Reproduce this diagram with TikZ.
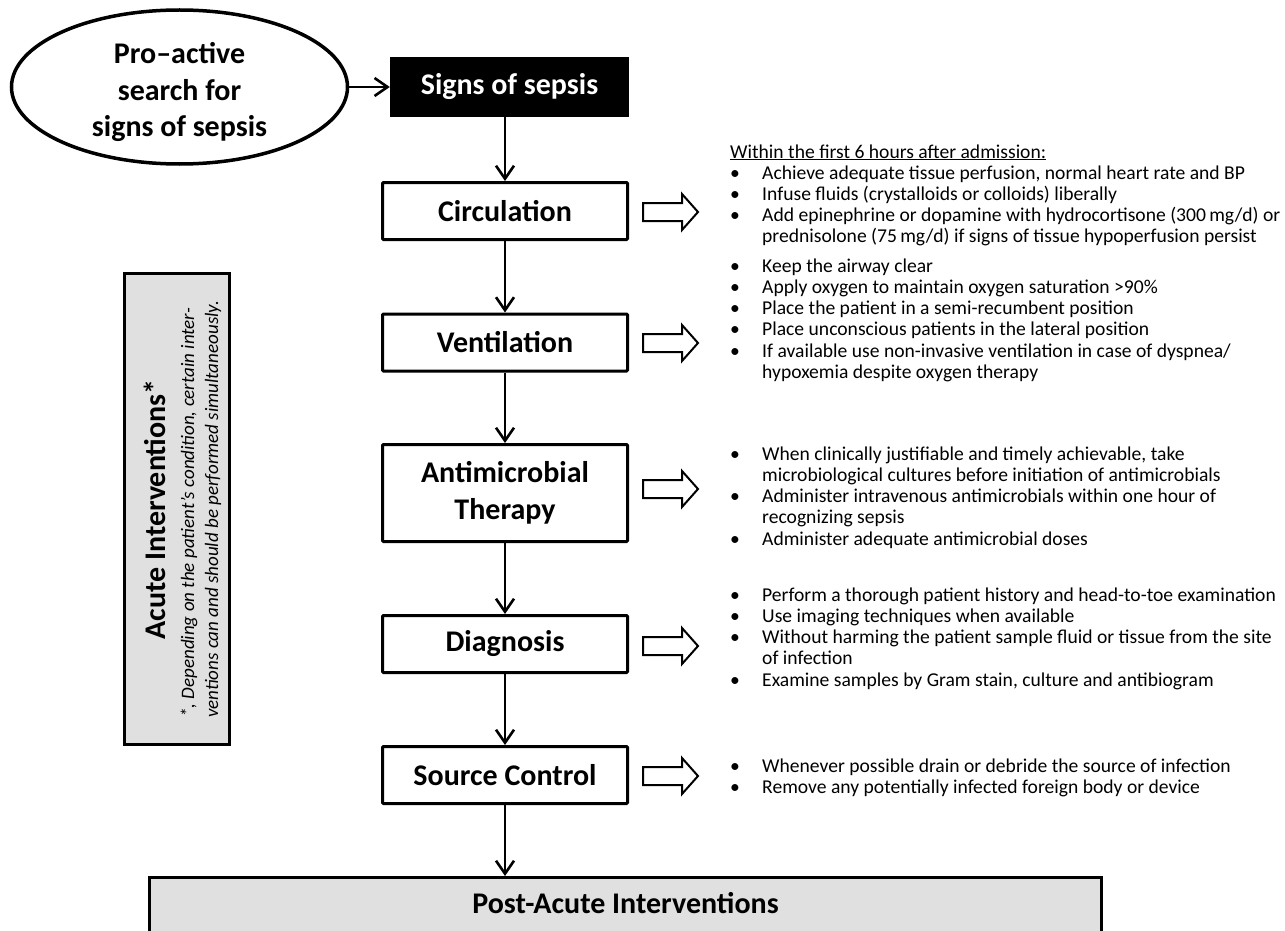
\documentclass[tikz,border=0pt]{standalone}
\usepackage{fontspec}
\setmainfont{Carlito}
\usetikzlibrary{arrows.meta,shapes.geometric,calc}
\definecolor{boxgray}{RGB}{224,224,224}
\newcommand{\hollowarrow}[1]{\draw[harrow] (643,#1-9) -- (682,#1-9) -- (682,#1-18) -- (698,#1) -- (682,#1+18) -- (682,#1+9) -- (643,#1+9) -- cycle;}
\begin{document}
\begin{tikzpicture}[x=1pt,y=-1pt,
  lbl/.style={font=\fontsize{30}{36.6}\selectfont\bfseries},
  stepbox/.style={draw, line width=3pt, rounded corners=1pt, minimum width=245pt, minimum height=57pt, inner sep=0pt, lbl, align=center, fill=white},
  conn/.style={line width=2.6pt, -{Straight Barb[length=13pt,width=18pt]}},
  harrow/.style={draw, line width=2pt, fill=white, line join=miter},
  info/.style={anchor=base west, inner sep=0pt, font=\fontsize{19.6}{21.25}\selectfont},
  graybox/.style={fill=boxgray, draw, line width=3pt, inner sep=0pt}
]
\useasboundingbox (0,0) rectangle (1285,931);
\clip (0,0) rectangle (1285,931);

% main flow
\node[ellipse, draw, line width=3.5pt, minimum width=336pt, minimum height=154pt, inner sep=0pt] (pro) at (179.5,87) {};
\node[lbl, align=center, inner sep=0pt] (protext) at (179.5,92) {Pro–active\\search for\\signs of sepsis};
\node[fill=black, text=white, lbl, minimum width=239pt, minimum height=60pt, inner sep=0pt] (signs) at (509.5,87) {Signs of sepsis};
\node[stepbox] (circ) at (505,211) {Circulation};
\node[stepbox] (vent) at (505,342.5) {Ventilation};
\node[stepbox, minimum height=97pt] (anti) at (505,493) {Antimicrobial\\Therapy};
\node[stepbox] (diag) at (505,644) {Diagnosis};
\node[stepbox] (src) at (505,775) {Source Control};
\node[graybox, minimum width=952pt, minimum height=70pt] (post) at (625.5,912.5) {};
\node[lbl, inner sep=0pt] (posttext) at (625.5,903) {Post-Acute Interventions};

% side box
\node[graybox, minimum width=105pt, minimum height=471pt] (acute) at (177,509) {};
\node[lbl, rotate=90, inner sep=0pt] (acutetitle) at (155,509.5) {Acute Interventions*};
\node[rotate=90, anchor=base west, inner sep=0pt, font=\fontsize{19}{24}\selectfont\itshape] (acutenote) at (194,718)
  {\begin{tabular}[t]{@{}l@{}}*, Depending on the patient’s condition, certain inter-\\ventions can and should be performed simultaneously.\end{tabular}};

% connectors
\draw[conn] (pro.east) -- (signs.west);
\draw[conn] (signs.south -| circ.north) -- (circ.north);
\draw[conn] (circ) -- (vent);
\draw[conn] (vent) -- (anti);
\draw[conn] (anti) -- (diag);
\draw[conn] (diag) -- (src);
\draw[conn] (src.south) -- (src.south |- post.north);

% hollow arrows
\hollowarrow{212}
\hollowarrow{343}
\hollowarrow{489}
\hollowarrow{646}
\hollowarrow{776}

% info texts
\node[info] (t1) at (730,158) {\begin{tabular}[t]{@{}p{32pt}@{}l@{}}
\multicolumn{2}{@{}l@{}}{\underline{Within the first 6 hours after admission:}}\\
\textbullet & Achieve adequate tissue perfusion, normal heart rate and BP\\
\textbullet & Infuse fluids (crystalloids or colloids) liberally\\
\textbullet & Add epinephrine or dopamine with hydrocortisone (300\,mg/d) or\\
 & prednisolone (75\,mg/d) if signs of tissue hypoperfusion persist
\end{tabular}};
\node[info] (t2) at (730,272) {\begin{tabular}[t]{@{}p{32pt}@{}l@{}}
\textbullet & Keep the airway clear\\
\textbullet & Apply oxygen to maintain oxygen saturation >90\%\\
\textbullet & Place the patient in a semi-recumbent position\\
\textbullet & Place unconscious patients in the lateral position\\
\textbullet & If available use non-invasive ventilation in case of dyspnea/\\
 & hypoxemia despite oxygen therapy
\end{tabular}};
\node[info] (t3) at (730,460) {\begin{tabular}[t]{@{}p{32pt}@{}l@{}}
\textbullet & When clinically justifiable and timely achievable, take\\
 & microbiological cultures before initiation of antimicrobials\\
\textbullet & Administer intravenous antimicrobials within one hour of\\
 & recognizing sepsis\\
\textbullet & Administer adequate antimicrobial doses
\end{tabular}};
\node[info] (t4) at (730,601) {\begin{tabular}[t]{@{}p{32pt}@{}l@{}}
\textbullet & Perform a thorough patient history and head-to-toe examination\\
\textbullet & Use imaging techniques when available\\
\textbullet & Without harming the patient sample fluid or tissue from the site\\
 & of infection\\
\textbullet & Examine samples by Gram stain, culture and antibiogram
\end{tabular}};
\node[info] (t5) at (730,772) {\begin{tabular}[t]{@{}p{32pt}@{}l@{}}
\textbullet & Whenever possible drain or debride the source of infection\\
\textbullet & Remove any potentially infected foreign body or device
\end{tabular}};
\end{tikzpicture}
\end{document}
